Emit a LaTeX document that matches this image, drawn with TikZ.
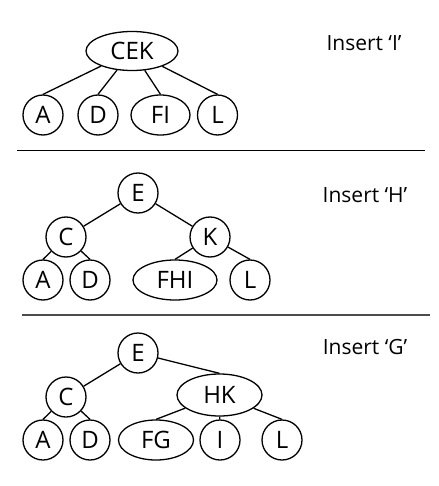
\documentclass[tikz,border=0pt]{standalone}
\usepackage{fontspec}
\setmainfont{Open Sans}
\usetikzlibrary{shapes.geometric}

\begin{document}
\begin{tikzpicture}[x=1pt, y=-1pt,
  key/.style={circle, draw, line width=1.3pt, minimum size=40pt, inner sep=0pt, font=\fontsize{24}{24}\selectfont},
  keys/.style={ellipse, draw, line width=1.3pt, minimum height=40pt, inner sep=0pt, font=\fontsize{24}{24}\selectfont},
  link/.style={line width=1.3pt},
  caption/.style={font=\fontsize{21}{24}\selectfont}]
  \useasboundingbox (0,0) rectangle (438,486);
  %% Insert I
  \node [keys, minimum width=92pt, minimum height=39pt] (cek) at (132,51) {CEK};
  \node [key] (a1) at (43,115) {A};
  \node [key] (d1) at (98,115) {D};
  \node [keys, minimum width=59pt] (fi) at (160.5,115) {FI};
  \node [key] (l1) at (217.5,115) {L};
  \node [caption] (ins1) at (364,43) {Insert ‘I’};
  \draw [link] (cek) -- (a1.north);
  \draw [link] (cek) -- (d1.north);
  \draw [link] (cek) -- (fi.north);
  \draw [link] (cek) -- (l1.north);
  \coordinate (s1) at (17,150.7);
  \coordinate (t1) at (425,150.7);
  \draw [line width=1.1pt] (s1) -- (t1);
  %% Insert H
  \node [key] (e2) at (138,193) {E};
  \node [key] (c2) at (66,237) {C};
  \node [key] (k2) at (210,237) {K};
  \node [key] (a2) at (43,280) {A};
  \node [key] (d2) at (90,280) {D};
  \node [keys, minimum width=84pt] (fhi) at (175,280) {FHI};
  \node [key] (l2) at (250,280) {L};
  \node [caption] (ins2) at (365,195) {Insert ‘H’};
  \draw [link] (e2) -- (c2);
  \draw [link] (e2) -- (k2);
  \draw [link] (c2) -- (a2.north);
  \draw [link] (c2) -- (d2.north);
  \draw [link] (k2) -- (fhi.north);
  \draw [link] (k2) -- (l2.north);
  \coordinate (s2) at (22,315);
  \coordinate (t2) at (430,315);
  \draw [line width=1.1pt, gray!60!black] (s2) -- (t2);
  %% Insert G
  \node [key] (e3) at (138,353) {E};
  \node [key] (c3) at (66,397) {C};
  \node [keys, minimum width=85pt, minimum height=42pt] (hk) at (219.5,395) {HK};
  \node [key] (a3) at (43,440) {A};
  \node [key] (d3) at (90,440) {D};
  \node [keys, minimum width=75pt] (fg) at (156,440) {FG};
  \node [key] (i3) at (220,440) {I};
  \node [key] (l3) at (282,440) {L};
  \node [caption] (ins3) at (365,347) {Insert ‘G’};
  \draw [link] (e3) -- (c3);
  \draw [link] (e3) -- (hk.north);
  \draw [link] (c3) -- (a3.north);
  \draw [link] (c3) -- (d3.north);
  \draw [link] (hk) -- (fg.north);
  \draw [link] (hk) -- (i3);
  \draw [link] (hk) -- (l3.north);
\end{tikzpicture}
\end{document}
